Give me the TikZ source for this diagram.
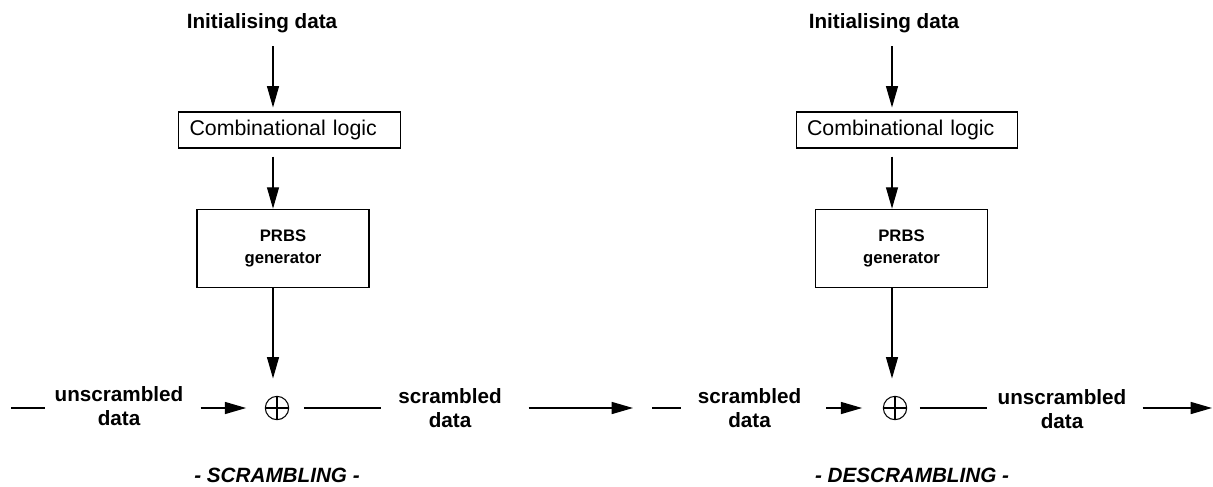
\documentclass[tikz,border=0pt]{standalone}
\usepackage{fontspec}
\setmainfont{Liberation Sans}
\usetikzlibrary{arrows.meta,positioning,calc}

\begin{document}
\begin{tikzpicture}
[x=0.75pt,y=-0.75pt,>={Triangle[length=16pt,width=9pt]},
txt/.style = {font=\bfseries\fontsize{15.5}{18.5}\selectfont, align=center, inner sep=0pt},
title/.style = {font=\bfseries\itshape\fontsize{15.5}{18.5}\selectfont, inner sep=0pt},
logic/.style = {draw, line width=0.8pt, font=\fontsize{16}{19}\selectfont, minimum width=166pt, minimum height=27pt, inner xsep=8pt, inner ysep=0pt, text width=150pt, align=left},
prbs/.style = {draw, line width=0.8pt, font=\bfseries\fontsize{12.5}{16.5}\selectfont, align=center, minimum width=129pt, minimum height=59pt},
xorgate/.style = {draw, circle, line width=0.8pt, minimum size=17.5pt, inner sep=0pt, path picture={\draw[line width=0.8pt] (path picture bounding box.north) -- (path picture bounding box.south) (path picture bounding box.west) -- (path picture bounding box.east);}},
feed/.style = {->, line width=0.8pt},
flow/.style = {line width=1.1pt},]
\useasboundingbox (0,0) rectangle (1213,486);

\coordinate (c1) at (273,0);
\node (init1) at (262,23)[txt] {Initialising data};
\node (comb1) at (289.5,130)[logic] {Combinational logic};
\node (prbs1) at (283,248.5)[prbs] {PRBS\\generator};
\node (xor1) at (277,408)[xorgate] {};
\node (plain1) at (119,406)[txt] {unscrambled\\data};
\node (scr1) at (450,408)[txt] {scrambled\\data};
\node (name1) at (277,475)[title] {- SCRAMBLING -};
\coordinate (in1) at (11,408);
\coordinate (out1) at (633,408);

\draw[feed,shorten <=10pt,shorten >=3pt] (init1.south -| c1)--(comb1.north -| c1);
\draw[feed,shorten <=6pt] (comb1.south -| c1)--(prbs1.north -| c1);
\draw[feed,shorten >=13pt] (prbs1.south -| c1)--(xor1.north -| c1);
\draw[flow,shorten >=6.75pt] (in1)--(in1 -| plain1.west);
\draw[flow,->,shorten <=12.75pt,shorten >=14pt] (plain1.east |- xor1)--(xor1.west);
\draw[flow,shorten <=11pt,shorten >=12.75pt] (xor1.east)--(scr1.west |- xor1);
\draw[flow,->,shorten <=20pt] (scr1.east |- xor1)--(out1);

\coordinate (c2) at (892,0);
\node (init2) at (884,23)[txt] {Initialising data};
\node (comb2) at (907,130)[logic] {Combinational logic};
\node (prbs2) at (901.5,248.5)[prbs] {PRBS\\generator};
\node (xor2) at (895,408)[xorgate] {};
\node (scr2) at (749.5,408)[txt] {scrambled\\data};
\node (plain2) at (1062,409)[txt] {unscrambled\\data};
\node (name2) at (912,475)[title] {- DESCRAMBLING -};
\coordinate (in2) at (652,408);
\coordinate (out2) at (1212,408);

\draw[feed,shorten <=10pt,shorten >=3pt] (init2.south -| c2)--(comb2.north -| c2);
\draw[feed,shorten <=6pt] (comb2.south -| c2)--(prbs2.north -| c2);
\draw[feed,shorten >=13pt] (prbs2.south -| c2)--(xor2.north -| c2);
\draw[flow,shorten >=12.75pt] (in2)--(in2 -| scr2.west);
\draw[flow,->,shorten <=18.75pt,shorten >=15.5pt] (scr2.east |- xor2)--(xor2.west);
\draw[flow,shorten <=9.5pt,shorten >=7.5pt] (xor2.east)--(plain2.west |- xor2);
\draw[flow,->,shorten <=12pt] (plain2.east |- xor2)--(out2);

\end{tikzpicture}
\end{document}
